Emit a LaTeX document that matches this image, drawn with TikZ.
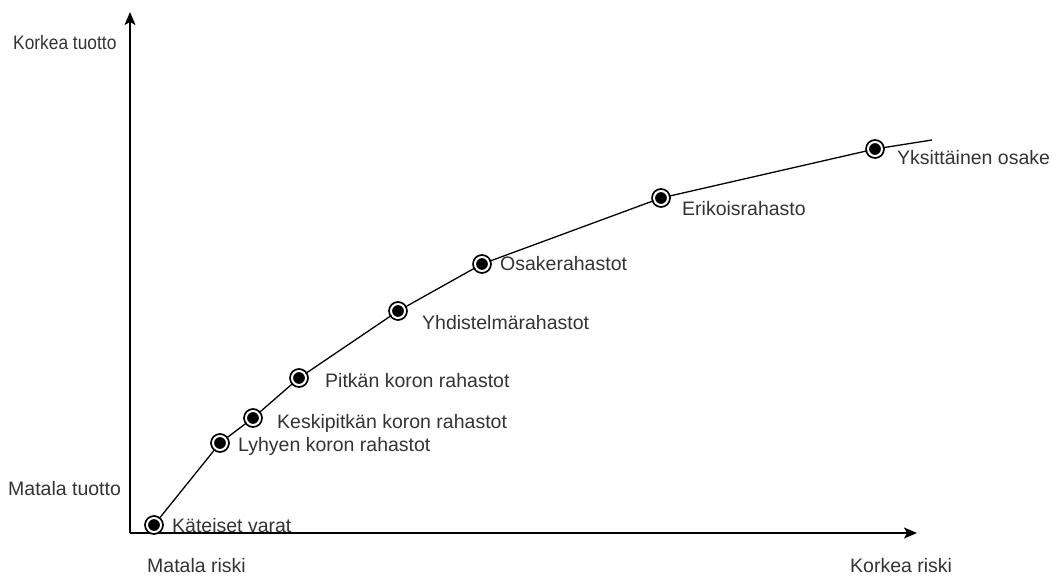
\documentclass[tikz,border=0pt]{standalone}
\usepackage{graphicx}
\usepackage{fontspec}
\setmainfont{Liberation Sans}
\usetikzlibrary{arrows.meta,positioning}
\definecolor{tekstiharmaa}{HTML}{333333}
\tikzset{
	piste/.style={circle,fill=black,draw=black,double=white,double distance=2pt,
		line width=1.8pt,minimum size=14pt,inner sep=0pt},
	selite/.style={anchor=base west,text=tekstiharmaa,font=\fontsize{19.5}{22}\selectfont,inner sep=0pt},
	akseli/.style={line width=1.5pt,-{Stealth[length=13pt,width=11pt,inset=3pt]}}
}
\begin{document}
\begin{tikzpicture}[x=1pt,y=-1pt]
		\useasboundingbox (0,0) rectangle (1052,577);
		% Axes
		\coordinate (origo) at (130,533);
		\coordinate (ylos) at (130,12);
		\coordinate (oikea) at (917,533);
		\draw[akseli] (origo) -- (ylos);
		\draw[akseli] (origo) -- (oikea);
		\node[selite] (korkeatuotto) at (13,50) {\scalebox{0.89}[1]{Korkea tuotto}};
		\node[selite] (matalatuotto) at (8,495) {Matala tuotto};
		\node[selite] (matalariski) at (147,572) {Matala riski};
		\node[selite] (korkeariski) at (850,572) {Korkea riski};
		% Points on the curve
		\node[piste] (kat) at (154,525) {};
		\node[piste] (lyh) at (220,443) {};
		\node[piste] (kes) at (253,418) {};
		\node[piste] (pit) at (299,378) {};
		\node[piste] (yhd) at (398,311) {};
		\node[piste] (osa) at (482,264) {};
		\node[piste] (eri) at (661,198) {};
		\node[piste] (yks) at (875,149) {};
		\coordinate (loppu) at (932,140);
		% Curve
		\draw[line width=1.3pt] (kat) -- (lyh) -- (kes) -- (pit) -- (yhd) -- (osa)
			-- (eri) -- (yks) -- (loppu);
		% Labels
		\node[selite] at (172,532) {Käteiset varat};
		\node[selite] at (238,451) {Lyhyen koron rahastot};
		\node[selite] at (277,428) {Keskipitkän koron rahastot};
		\node[selite] at (325,387) {Pitkän koron rahastot};
		\node[selite] at (422,329) {Yhdistelmärahastot};
		\node[selite] at (500,271) {Osakerahastot};
		\node[selite] at (682,216) {Erikoisrahasto};
		\node[selite] at (897,165) {Yksittäinen osake};
	\end{tikzpicture}
\end{document}
